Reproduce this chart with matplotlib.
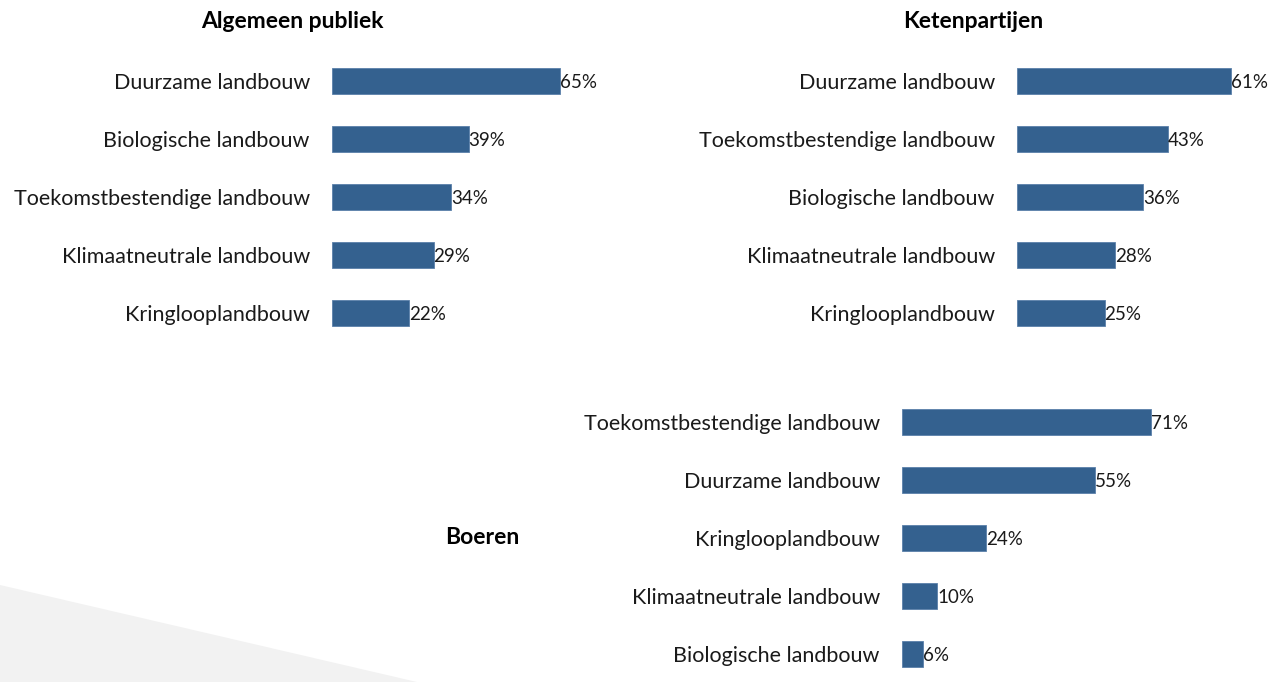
import matplotlib
matplotlib.use("Agg")
import matplotlib.pyplot as plt
from matplotlib.patches import Polygon

plt.rcParams["font.family"] = ["Lato", "DejaVu Sans"]

# data per group, top to bottom
publiek_labels = ["Duurzame landbouw", "Biologische landbouw", "Toekomstbestendige landbouw",
                  "Klimaatneutrale landbouw", "Kringlooplandbouw"]
publiek_values = [65, 39, 34, 29, 22]

keten_labels = ["Duurzame landbouw", "Toekomstbestendige landbouw", "Biologische landbouw",
                "Klimaatneutrale landbouw", "Kringlooplandbouw"]
keten_values = [61, 43, 36, 28, 25]

boeren_labels = ["Toekomstbestendige landbouw", "Duurzame landbouw", "Kringlooplandbouw",
                 "Klimaatneutrale landbouw", "Biologische landbouw"]
boeren_values = [71, 55, 24, 10, 6]

W, H = 1270, 682
BAR_COLOR = "#34618f"
PX_PER_PCT = 3.5

fig = plt.figure(figsize=(W / 100, H / 100), dpi=100)

# light grey wedge bottom-left
fig.patches.append(Polygon([(0, 0), (0, (H - 585) / H), (417 / W, 0)], closed=True,
                           transform=fig.transFigure, facecolor="#f2f2f2",
                           edgecolor="none", zorder=0))


def panel(left_px, top_px, width_px, labels, values):
    ax = fig.add_axes([left_px / W, (H - top_px - 290) / H, width_px / W, 290 / H])
    ax.patch.set_alpha(0)
    y = list(range(len(values)))
    ax.barh(y, values, height=0.45, color=BAR_COLOR, edgecolor="#5a80aa", linewidth=0.6)
    for yi, v in zip(y, values):
        ax.text(v, yi + 0.03, f"{v}%", va="center", ha="left", fontsize=13.5, color="#1a1a1a")
    ax.set_xlim(0, width_px / PX_PER_PCT)
    ax.set_ylim(len(values) - 0.5, -0.5)
    ax.set_yticks(y)
    ax.set_yticklabels(labels, fontsize=15.5, color="#1a1a1a")
    ax.tick_params(axis="y", length=0, pad=16)
    ax.set_xticks([])
    for s in ax.spines.values():
        s.set_visible(False)
    return ax


panel(332, 52, 300, publiek_labels, publiek_values)
panel(1017, 52, 245, keten_labels, keten_values)
panel(902, 393, 300, boeren_labels, boeren_values)

fig.text(292 / W, 1 - 22 / H, "Algemeen publiek", ha="center", va="center",
         fontsize=16.5, fontweight="bold")
fig.text(973 / W, 1 - 22 / H, "Ketenpartijen", ha="center", va="center",
         fontsize=16.5, fontweight="bold")
fig.text(482 / W, 1 - 538 / H, "Boeren", ha="center", va="center",
         fontsize=16.5, fontweight="bold")

fig.savefig("out.png", dpi=100)
